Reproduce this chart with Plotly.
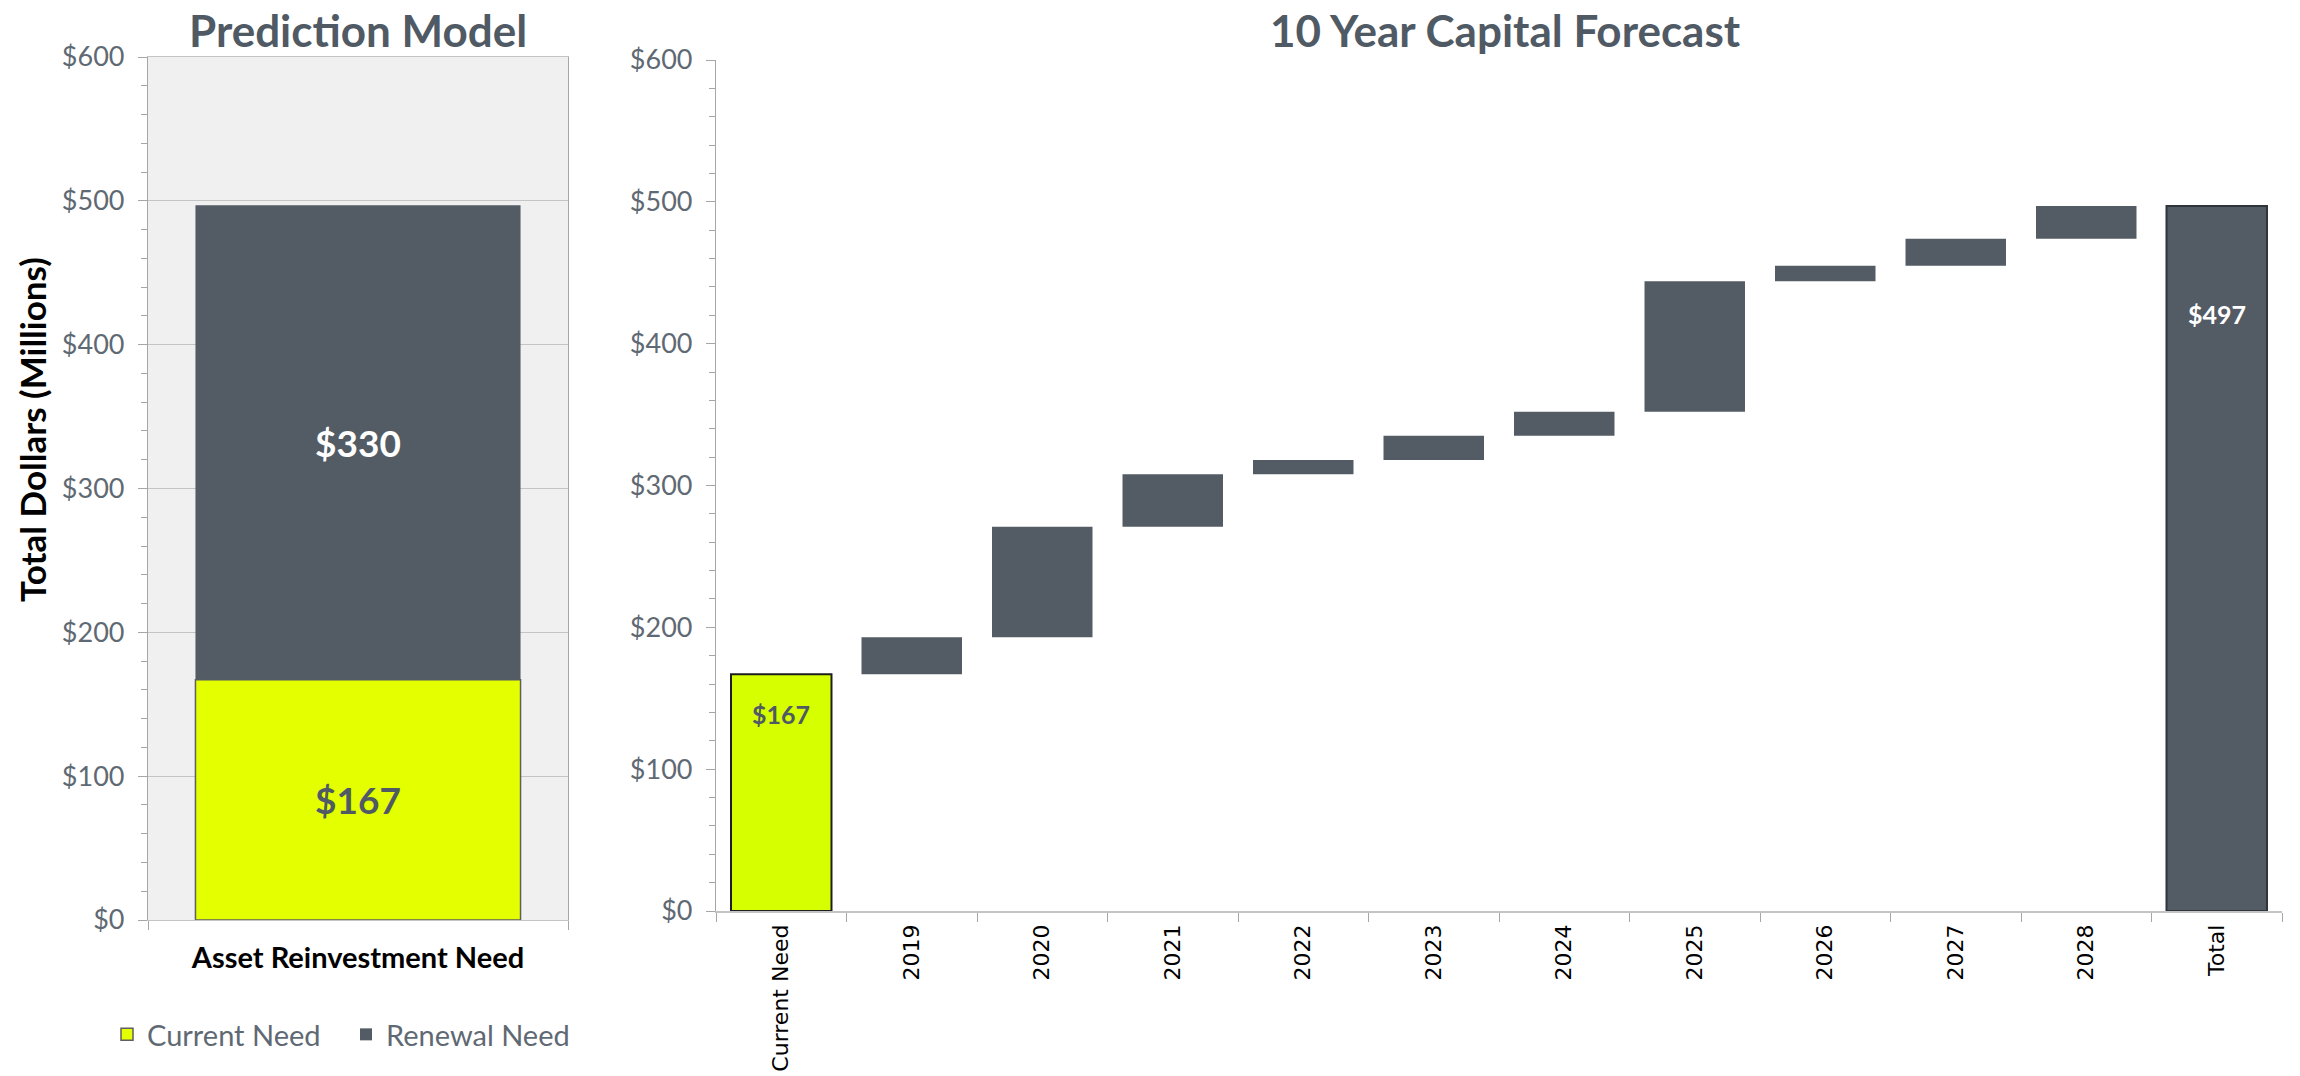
import plotly.graph_objects as go

# ---------------- data ----------------
left_category = ["Asset Reinvestment Need"]
current_need = [167]
renewal_need = [330]

forecast_categories = ["Current Need", "2019", "2020", "2021", "2022", "2023",
                       "2024", "2025", "2026", "2027", "2028", "Total"]
year_increments = [26, 78, 37, 10, 17, 17, 92, 11, 19, 23]
total_value = 497

y_ticks = [0, 100, 200, 300, 400, 500, 600]

# ---------------- styles ----------------
W, H = 2300, 1076
YELLOW_L = "#E3FF00"
YELLOW_R = "#D6FF00"
DARK = "#535B65"
TITLE_C = "#505A64"
TICK_C = "#5F6973"
AXIS_C = "#A6A6A6"
GRID_C = "#C4C4C4"
FONT = "Lato"

# waterfall heights and bases built from the data
heights = [current_need[0]] + year_increments + [total_value]
bases = [0]
run = current_need[0]
for inc in year_increments:
    bases.append(run)
    run += inc
bases.append(0)

colors = [YELLOW_R] + [DARK] * len(year_increments) + [DARK]
line_colors = ["#1E1E1E"] + [DARK] * len(year_increments) + ["#2F353B"]
line_widths = [2] + [0] * len(year_increments) + [2]

fig = go.Figure()

# left stacked bar
fig.add_trace(go.Bar(
    x=left_category, y=current_need, name="Current Need",
    marker=dict(color=YELLOW_L, line=dict(color="#5F5F5F", width=1.5)),
    text=[f"${v}" for v in current_need], textposition="inside",
    insidetextanchor="middle", textangle=0,
    textfont=dict(family=FONT, size=37, color=TITLE_C, weight="bold"),
    xaxis="x", yaxis="y", width=0.774,
))
fig.add_trace(go.Bar(
    x=left_category, y=renewal_need, base=current_need, name="Renewal Need",
    marker=dict(color=DARK, line=dict(color=DARK, width=0)),
    text=[f"${v}" for v in renewal_need], textposition="inside",
    insidetextanchor="middle", textangle=0,
    textfont=dict(family=FONT, size=37, color="white", weight="bold"),
    xaxis="x", yaxis="y", width=0.774,
))

# right waterfall
fig.add_trace(go.Bar(
    x=forecast_categories, y=heights, base=bases, showlegend=False,
    marker=dict(color=colors, line=dict(color=line_colors, width=line_widths)),
    xaxis="x2", yaxis="y2", width=0.77, hoverinfo="x+y",
))

# left plot background
fig.add_shape(type="rect", xref="x domain", yref="y domain", x0=0, x1=1, y0=0, y1=1,
              fillcolor="#F0F0F0", line=dict(width=0), layer="below")

ytick_text = [f"${v}" for v in y_ticks]
common_y = dict(
    range=[0, 600], tickvals=y_ticks, ticktext=ytick_text,
    tickfont=dict(family=FONT, size=27, color=TICK_C),
    ticks="outside", ticklen=9, tickcolor=AXIS_C, tickwidth=1,
    minor=dict(dtick=20, ticks="outside", ticklen=6, tickcolor=AXIS_C, showgrid=False),
    showline=True, linecolor=AXIS_C, linewidth=1.2, zeroline=False,
    ticklabelstandoff=8, fixedrange=True, automargin=False,
)

fig.update_layout(
    template="none",
    width=W, height=H,
    margin=dict(l=0, r=0, t=0, b=0, pad=0),
    paper_bgcolor="white", plot_bgcolor="rgba(0,0,0,0)",
    barmode="overlay",
    font=dict(family=FONT, color=TICK_C),
    xaxis=dict(
        type="category",
        domain=[148 / W, 568 / W], anchor="y",
        tickson="boundaries", ticks="outside", ticklen=9, tickcolor=AXIS_C,
        showline=True, linecolor=GRID_C, linewidth=1.2, mirror=True,
        showgrid=False, zeroline=False, automargin=False,
        tickfont=dict(family=FONT, size=29, color="black", weight="bold"),
        ticklabelstandoff=12, fixedrange=True,
    ),
    yaxis=dict(
        domain=[1 - 920 / H, 1 - 57 / H], anchor="x",
        showgrid=True, gridcolor=GRID_C, gridwidth=1.2, mirror=True,
        **common_y,
    ),
    xaxis2=dict(
        type="category",
        categoryorder="array", categoryarray=forecast_categories,
        domain=[716 / W, 2282 / W], anchor="y2",
        tickson="boundaries", ticks="outside", ticklen=9, tickcolor=AXIS_C,
        showline=True, linecolor=GRID_C, linewidth=1.5,
        showgrid=False, zeroline=False, automargin=False,
        tickangle=-90,
        tickfont=dict(family="DejaVu Sans", size=22, color="black"),
        ticklabelstandoff=3,
        fixedrange=True,
    ),
    yaxis2=dict(
        domain=[1 - 911 / H, 1 - 60 / H], anchor="x2",
        showgrid=False,
        **common_y,
    ),
    legend=dict(
        orientation="h", x=107 / W, y=1 - 1009 / H, xanchor="left", yanchor="top",
        font=dict(family=FONT, size=29, color=TICK_C),
        bgcolor="rgba(0,0,0,0)", itemwidth=30,
        entrywidth=194, entrywidthmode="pixels",
        traceorder="normal",
    ),
    annotations=[
        dict(text="<b>Prediction Model</b>", x=358 / W, y=1 - 30 / H, xref="paper", yref="paper",
             xanchor="center", yanchor="middle", showarrow=False,
             font=dict(family=FONT, size=44, color=TITLE_C)),
        dict(text="<b>10 Year Capital Forecast</b>", x=1505 / W, y=1 - 30 / H, xref="paper", yref="paper",
             xanchor="center", yanchor="middle", showarrow=False,
             font=dict(family=FONT, size=44, color=TITLE_C)),
        dict(text="<b>Total Dollars (Millions)</b>", x=32 / W, y=1 - 430 / H, xref="paper", yref="paper",
             xanchor="center", yanchor="middle", textangle=-90, showarrow=False,
             font=dict(family=FONT, size=35, color="black")),
        dict(text=f"<b>${current_need[0]}</b>", x=forecast_categories[0], y=heights[0],
             xref="x2", yref="y2", yanchor="middle", yshift=-40, showarrow=False,
             font=dict(family=FONT, size=25, color=TITLE_C)),
        dict(text=f"<b>${total_value}</b>", x=forecast_categories[-1], y=total_value,
             xref="x2", yref="y2", yanchor="middle", yshift=-108, showarrow=False,
             font=dict(family=FONT, size=25, color="white")),
    ],
)

fig.write_html(
    "out.html",
    config={"displayModeBar": False},
    post_script="document.body.style.margin='0px';document.body.style.overflow='hidden';",
)
